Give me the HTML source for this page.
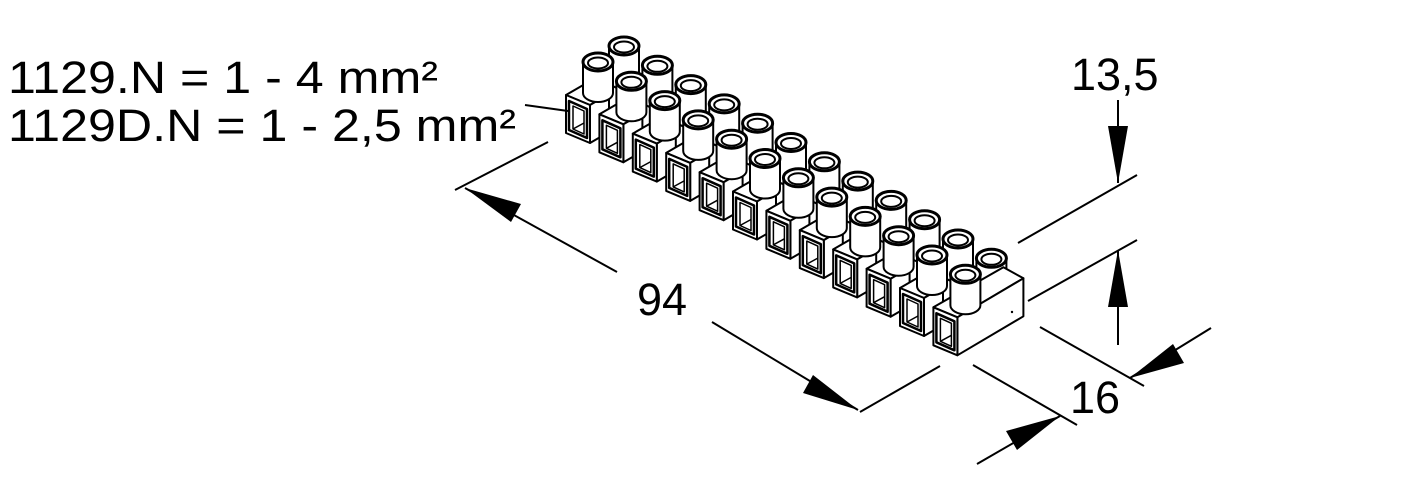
<!DOCTYPE html>
<html><head><style>html,body{margin:0;padding:0;background:#fff}svg{display:block}</style></head>
<body>
<svg width="1417" height="502" viewBox="0 0 1417 502" xmlns="http://www.w3.org/2000/svg" font-family="Liberation Sans, sans-serif">
<defs>
<g id="bcyl" stroke="#000" fill="#fff">
 <path d="M609,46 L609,80 A15,9 0 0 0 639,80 L639,46 Z" stroke-width="2"/>
 <ellipse cx="624" cy="46" rx="15" ry="9" stroke-width="3"/>
 <ellipse cx="624" cy="47" rx="10" ry="5.5" stroke-width="2"/>
</g>
<g id="box" stroke="#000" fill="#fff" stroke-width="2" stroke-linejoin="round">
 <polygon points="566,95 585,84 609,94 590,105"/>
 <polygon points="590,105 609,94 609,132 590,143"/>
 <polygon points="566,95 590,105 590,143 566,133"/>
 <polygon points="569,101 587,109 587,138 569,130" stroke-width="2.5"/>
 <polygon points="573,106 584,111 584,134 573,129" stroke-width="1.5"/>
 <line x1="573" y1="129" x2="584" y2="123" stroke-width="1.5"/>
</g>
<g id="fcyl" stroke="#000" fill="#fff">
 <path d="M583,62 L583,93 A15,9 0 0 0 613,93 L613,62 Z" stroke-width="2"/>
 <ellipse cx="598" cy="62" rx="15" ry="9" stroke-width="3"/>
 <ellipse cx="598" cy="63" rx="10" ry="5.5" stroke-width="2"/>
</g>
<g id="unit"><use href="#bcyl"/><use href="#box"/><use href="#fcyl"/></g>
</defs>

<use href="#unit" transform="translate(0,0)"/>
<use href="#unit" transform="translate(33.4,19.3)"/>
<use href="#unit" transform="translate(66.8,38.6)"/>
<use href="#unit" transform="translate(100.2,57.9)"/>
<use href="#unit" transform="translate(133.6,77.2)"/>
<use href="#unit" transform="translate(167,96.5)"/>
<use href="#unit" transform="translate(200.4,115.8)"/>
<use href="#unit" transform="translate(233.8,135.1)"/>
<use href="#unit" transform="translate(267.2,154.4)"/>
<use href="#unit" transform="translate(300.6,173.7)"/>
<use href="#unit" transform="translate(334,193)"/>
<g transform="translate(367.4,212.3)">
 <use href="#bcyl"/>
 <g stroke="#000" fill="#fff" stroke-width="2" stroke-linejoin="round">
  <polygon points="566,95 636,55 656,66 590,105"/>
  <polygon points="590,105 656,66 656,104 590,143"/>
  <polygon points="566,95 590,105 590,143 566,133"/>
  <polygon points="569,101 587,109 587,138 569,130" stroke-width="2.5"/>
  <polygon points="573,106 584,111 584,134 573,129" stroke-width="1.5"/>
  <line x1="573" y1="129" x2="584" y2="123" stroke-width="1.5"/>
 </g>
 <use href="#fcyl"/>
</g>
<circle cx="1012" cy="312" r="1.2" fill="#000"/>

<g stroke="#000" stroke-width="2" fill="none">
 <line x1="525" y1="105" x2="568" y2="111"/>
 <line x1="455" y1="190" x2="548" y2="142"/>
 <line x1="860" y1="412" x2="940" y2="366"/>
 <line x1="465" y1="188" x2="617" y2="272"/>
 <line x1="712" y1="322" x2="858" y2="410"/>
 <line x1="1018" y1="243" x2="1137" y2="175"/>
 <line x1="1028" y1="301" x2="1137" y2="240"/>
 <line x1="1118" y1="100" x2="1118" y2="183"/>
 <line x1="1118" y1="250" x2="1118" y2="345"/>
 <line x1="1040" y1="327" x2="1144" y2="386"/>
 <line x1="973" y1="365" x2="1077" y2="425"/>
 <line x1="1130" y1="378" x2="1211" y2="328"/>
 <line x1="1060" y1="416" x2="977" y2="464"/>
</g>
<g fill="#000">
 <polygon points="465,188 521,204 511,222"/>
 <polygon points="858,410 803,393 813,375"/>
 <polygon points="1118,183 1108,126 1128,126"/>
 <polygon points="1118,250 1108,307 1128,307"/>
 <polygon points="1130,378 1173,344 1184,363"/>
 <polygon points="1060,416 1017,450 1006,431"/>
</g>
<g font-size="45" fill="#000">
 <text x="8" y="93" textLength="430" lengthAdjust="spacingAndGlyphs">1129.N = 1 - 4 mm²</text>
 <text x="8" y="141" textLength="508" lengthAdjust="spacingAndGlyphs">1129D.N = 1 - 2,5 mm²</text>
 <text x="637" y="315">94</text>
 <text x="1071" y="90">13,5</text>
 <text x="1070" y="413">16</text>
</g>
</svg>
</body></html>
